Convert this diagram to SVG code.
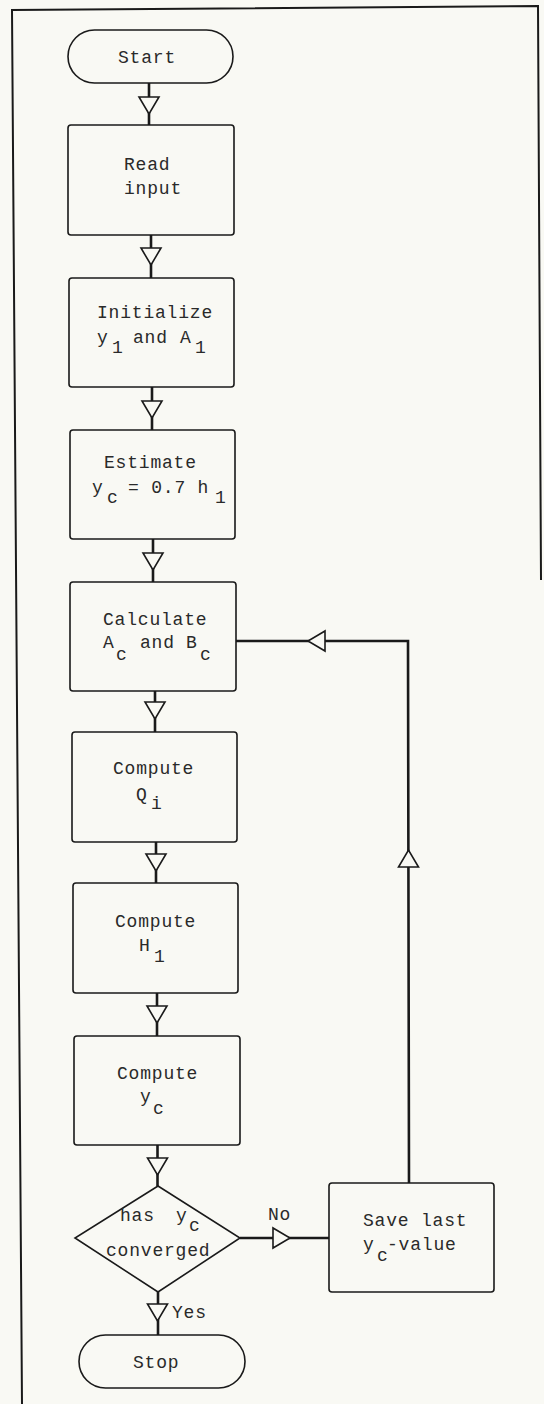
<svg xmlns="http://www.w3.org/2000/svg" width="544" height="1404" viewBox="0 0 544 1404">
<style>
.bg{fill:#f9f9f4}
.frame{fill:none;stroke:#1a1a1a;stroke-width:2}
.node{fill:none;stroke:#1a1a1a;stroke-width:1.6}
.conn{fill:none;stroke:#1a1a1a;stroke-width:2.6}
.tri{fill:#f9f9f4;stroke:#1a1a1a;stroke-width:1.6;stroke-linejoin:miter}
text{font-family:"Liberation Mono","DejaVu Sans Mono",monospace;font-size:18px;letter-spacing:0.8px;fill:#2a2a2a}
</style>
<defs>
<path id="tri" class="tri" d="M-10,0 L10,0 L0,17 Z"/>
</defs>
<rect class="bg" x="0" y="0" width="544" height="1404"/>
<g id="frame">
<path class="frame" d="M22,1404 L12,10 L538,6 L541,580"/>
</g>
<g id="connectors">
<line class="conn" x1="149" y1="83" x2="149" y2="125"/>
<use href="#tri" x="149" y="97"/>
<line class="conn" x1="151" y1="235" x2="151" y2="278"/>
<use href="#tri" x="151" y="248"/>
<line class="conn" x1="152" y1="387" x2="152" y2="430"/>
<use href="#tri" x="152" y="401"/>
<line class="conn" x1="153" y1="539" x2="153" y2="582"/>
<use href="#tri" x="153" y="553"/>
<line class="conn" x1="155" y1="691" x2="155" y2="732"/>
<use href="#tri" x="155" y="702"/>
<line class="conn" x1="156" y1="842" x2="156" y2="883"/>
<use href="#tri" x="156" y="854"/>
<line class="conn" x1="157" y1="993" x2="157" y2="1036"/>
<use href="#tri" x="157" y="1006"/>
<line class="conn" x1="157.5" y1="1145" x2="157.5" y2="1186"/>
<use href="#tri" x="157.5" y="1158"/>
<line class="conn" x1="158" y1="1292" x2="158" y2="1335"/>
<use href="#tri" x="157.5" y="1304"/>
<line class="conn" x1="240" y1="1238" x2="329" y2="1238"/>
<use href="#tri" transform="translate(273,1238) rotate(-90)"/>
<text x="268" y="1220">No</text>
<text x="172" y="1318">Yes</text>
<path class="conn" d="M409,1183 L408,641 L236,641"/>
<use href="#tri" transform="translate(408.5,867) rotate(180)"/>
<use href="#tri" transform="translate(325,641) rotate(90)"/>
</g>
<g id="start">
<rect class="node" x="68" y="30" width="165" height="53" rx="26.5"/>
<text x="118" y="63">Start</text>
</g>
<g id="read">
<rect class="node" x="68" y="125" width="166" height="110" rx="3"/>
<text x="124" y="170">Read</text>
<text x="124" y="194">input</text>
</g>
<g id="init">
<rect class="node" x="69" y="278" width="165" height="109" rx="3"/>
<text x="97" y="318">Initialize</text>
<text x="97" y="343">y</text><text x="112" y="353">1</text>
<text x="133" y="343">and</text>
<text x="180" y="343">A</text><text x="195" y="353">1</text>
</g>
<g id="estimate">
<rect class="node" x="70" y="430" width="165" height="109" rx="3"/>
<text x="104" y="468">Estimate</text>
<text x="92" y="493">y</text><text x="107" y="503">c</text>
<text x="128" y="493">= 0.7 h</text><text x="215" y="503">1</text>
</g>
<g id="calculate">
<rect class="node" x="70" y="582" width="166" height="109" rx="3"/>
<text x="103" y="625">Calculate</text>
<text x="103" y="648">A</text><text x="116" y="660">c</text>
<text x="140" y="648">and</text>
<text x="186" y="648">B</text><text x="200" y="660">c</text>
</g>
<g id="compute-q">
<rect class="node" x="72" y="732" width="165" height="110" rx="3"/>
<text x="113" y="774">Compute</text>
<text x="136" y="800">Q</text><text x="151" y="809">i</text>
</g>
<g id="compute-h">
<rect class="node" x="73" y="883" width="165" height="110" rx="3"/>
<text x="115" y="927">Compute</text>
<text x="139" y="951">H</text><text x="154" y="962">1</text>
</g>
<g id="compute-y">
<rect class="node" x="74" y="1036" width="166" height="109" rx="3"/>
<text x="117" y="1079">Compute</text>
<text x="140" y="1102">y</text><text x="153" y="1114">c</text>
</g>
<g id="decision">
<polygon class="node" points="158,1186 240,1238 158,1292 75,1238"/>
<text x="120" y="1221">has</text>
<text x="176" y="1221">y</text><text x="189" y="1231">c</text>
<text x="106" y="1256">converged</text>
</g>
<g id="save">
<rect class="node" x="329" y="1183" width="165" height="109" rx="3"/>
<text x="363" y="1226">Save last</text>
<text x="363" y="1250">y</text><text x="377" y="1261">c</text>
<text x="387" y="1250">-value</text>
</g>
<g id="stop">
<rect class="node" x="79" y="1335" width="166" height="53" rx="26.5"/>
<text x="133" y="1368">Stop</text>
</g>
</svg>
